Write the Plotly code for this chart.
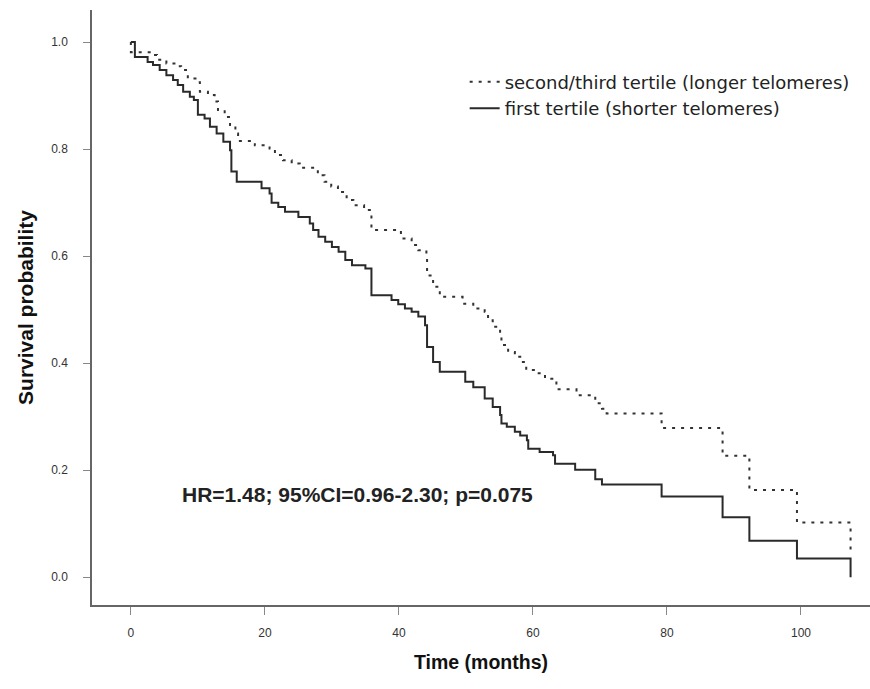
import plotly.graph_objects as go

# Kaplan-Meier step data (time in months, survival probability)
short_t = [0, 0.6, 2.5, 3.3, 4.3, 5.3, 6.3, 7.0, 7.8, 8.8, 9.4, 10.0, 11.0, 11.8, 12.8, 13.8, 14.8, 15.0, 15.8,
           19.5, 20.7, 21.0, 22.0, 23.0, 25.0, 26.7, 27.2, 28.0, 29.0, 30.0, 31.0, 32.0, 33.0, 35.0, 35.9,
           38.9, 39.9, 40.9, 41.9, 42.9, 43.9, 44.2, 45.1, 46.1, 49.9, 51.1, 52.8, 54.0, 55.1, 55.3, 56.1,
           57.3, 58.1, 59.1, 59.3, 61.0, 63.0, 63.3, 66.3, 69.3, 70.3, 79.2, 88.3, 92.3, 99.4, 107.4]
short_s = [1.0, 0.972, 0.963, 0.957, 0.948, 0.938, 0.929, 0.920, 0.907, 0.898, 0.892, 0.864, 0.857, 0.842, 0.829,
           0.814, 0.798, 0.758, 0.739, 0.727, 0.717, 0.700, 0.692, 0.683, 0.673, 0.661, 0.649, 0.636, 0.627,
           0.617, 0.608, 0.593, 0.583, 0.577, 0.527, 0.518, 0.510, 0.502, 0.496, 0.487, 0.471, 0.430, 0.402,
           0.384, 0.365, 0.355, 0.334, 0.318, 0.303, 0.287, 0.281, 0.272, 0.265, 0.256, 0.240, 0.234, 0.228,
           0.212, 0.201, 0.183, 0.173, 0.151, 0.112, 0.068, 0.035, 0.0]

long_t = [0, 0, 3.0, 3.9, 5.3, 6.5, 7.5, 8.5, 9.8, 10.3, 11.5, 12.5, 13.0, 14.0, 14.8, 15.6, 16.0, 18.5, 20.7,
          21.5, 22.7, 24.0, 25.2, 27.9, 28.9, 29.9, 30.9, 32.2, 33.2, 34.8, 35.9, 40.3, 41.9, 42.9, 44.1, 44.2,
          45.1, 46.1, 49.5, 51.1, 52.8, 53.3, 54.0, 55.1, 55.3, 56.3, 57.3, 58.3, 59.0, 60.5, 61.8, 63.5, 66.5,
          69.3, 70.3, 71.0, 79.2, 88.3, 92.3, 99.4, 107.4]
long_s = [1.0, 0.981, 0.976, 0.967, 0.960, 0.955, 0.948, 0.932, 0.925, 0.907, 0.901, 0.889, 0.873, 0.860, 0.845,
          0.829, 0.815, 0.807, 0.801, 0.789, 0.779, 0.773, 0.765, 0.751, 0.739, 0.730, 0.720, 0.705, 0.695,
          0.686, 0.649, 0.633, 0.621, 0.611, 0.599, 0.564, 0.543, 0.524, 0.511, 0.502, 0.496, 0.480, 0.468,
          0.455, 0.434, 0.421, 0.412, 0.402, 0.387, 0.381, 0.371, 0.351, 0.340, 0.325, 0.315, 0.306, 0.279,
          0.227, 0.163, 0.102, 0.05]

x_ticks = [0, 20, 40, 60, 80, 100]
y_ticks = [0.0, 0.2, 0.4, 0.6, 0.8, 1.0]

fig = go.Figure()
fig.add_trace(go.Scatter(
    x=long_t, y=long_s, mode="lines", line_shape="hv",
    line=dict(color="#333333", width=2, dash="3px,6px"),
    name="second/third tertile (longer telomeres)"))
fig.add_trace(go.Scatter(
    x=short_t, y=short_s, mode="lines", line_shape="hv",
    line=dict(color="#2a2a2a", width=2),
    name="first tertile (shorter telomeres)"))

fig.add_annotation(
    x=7.3, y=0.155, xref="x", yref="y", xanchor="left", yanchor="middle",
    text="<b>HR=1.48; 95%CI=0.96-2.30; p=0.075</b>", showarrow=False,
    font=dict(family="Liberation Sans, Arial", size=21, color="#222222"))

fig.update_layout(
    width=870, height=689,
    margin=dict(l=92, r=0, t=10, b=84),
    paper_bgcolor="white", plot_bgcolor="white",
    showlegend=True,
    legend=dict(x=0.479, y=0.91, xanchor="left", yanchor="top",
                font=dict(family="DejaVu Sans", size=18, color="#222222"),
                bgcolor="rgba(0,0,0,0)", itemwidth=30, tracegroupgap=0),
    xaxis=dict(range=[-5.8, 110.3], tickvals=x_ticks, ticks="outside", ticklen=8,
               tickcolor="#888888", showline=True, linecolor="#666666", linewidth=1.5,
               showgrid=False, zeroline=False, ticklabelstandoff=8,
               tickfont=dict(family="Liberation Sans, Arial", size=12, color="#333333"),
               title=dict(text="<b>Time (months)</b>", standoff=16,
                          font=dict(family="Liberation Sans, Arial", size=19.5, color="#111111"))),
    yaxis=dict(range=[-0.052, 1.06], tickvals=y_ticks, tickformat=".1f", ticks="outside", ticklen=7,
               tickcolor="#888888", showline=True, linecolor="#666666", linewidth=1.5,
               showgrid=False, zeroline=False, ticklabelstandoff=13,
               tickfont=dict(family="Liberation Sans, Arial", size=12, color="#333333"),
               title=dict(text="<b>Survival probability</b>", standoff=12,
                          font=dict(family="Liberation Sans, Arial", size=21, color="#111111"))),
)

fig.write_html("out.html")
